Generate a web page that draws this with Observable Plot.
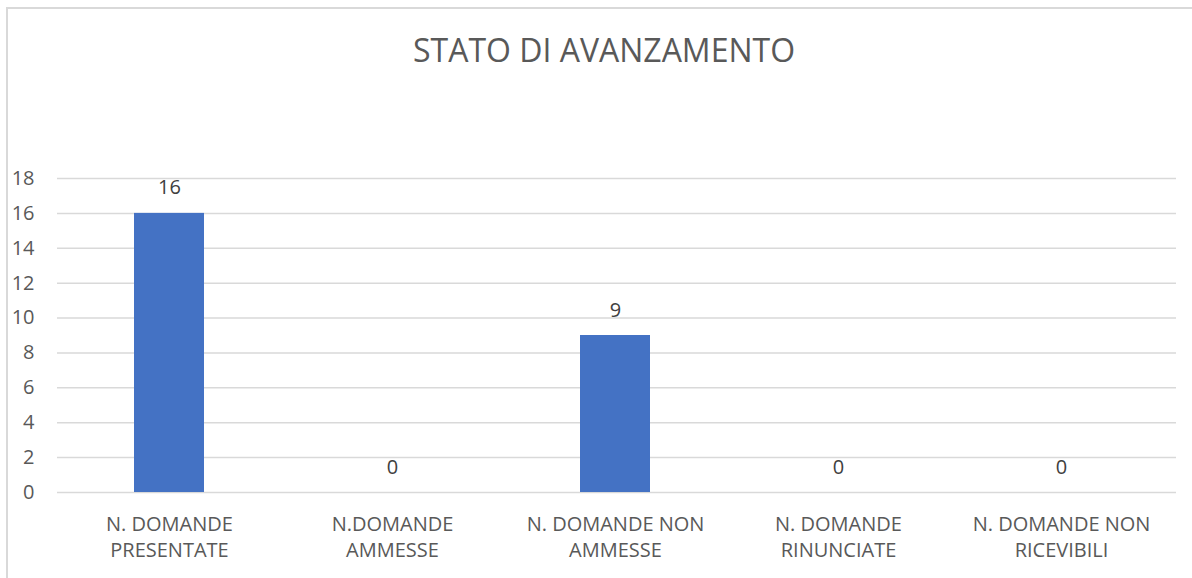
<!DOCTYPE html>
<html>
<head>
<meta charset="utf-8">
<script src="https://cdn.jsdelivr.net/npm/d3@7"></script>
<script src="https://cdn.jsdelivr.net/npm/@observablehq/plot@0.6"></script>
<style>
  html, body { margin: 0; padding: 0; background: #fff; overflow: hidden; }
  #wrap { position: relative; width: 1192px; height: 578px; }
  #frame { position: absolute; left: 6px; top: 7px; width: 1300px; height: 700px;
           border-left: 2px solid #d9d9d9; border-top: 2px solid #d9d9d9; box-sizing: border-box; }
  #title { position: absolute; left: 0; top: 34px; width: 1208px; text-align: center;
           font-family: "Open Sans", sans-serif; font-size: 32px; line-height: 1; color: #595959; }
  #chart { position: absolute; left: 0; top: 0; }
</style>
</head>
<body>
<div id="wrap">
  <div id="frame"></div>
  <div id="title">STATO DI AVANZAMENTO</div>
  <div id="chart"></div>
</div>
<script>
const categories = ["N. DOMANDE\nPRESENTATE", "N.DOMANDE\nAMMESSE", "N. DOMANDE NON\nAMMESSE", "N. DOMANDE\nRINUNCIATE", "N. DOMANDE NON\nRICEVIBILI"];
const values = [16, 0, 9, 0, 0];
const yTicks = [0, 2, 4, 6, 8, 10, 12, 14, 16, 18];

const data = categories.map((c, i) => ({category: c, value: values[i]}));

const chart = Plot.plot({
  width: 1192,
  height: 578,
  marginLeft: 57,
  marginRight: 16,
  marginTop: 178,
  marginBottom: 86,
  style: {fontFamily: "'Open Sans', sans-serif", fontSize: "20px", color: "#595959", background: "transparent"},
  x: {domain: categories, paddingInner: 0.687, paddingOuter: 0.3435, label: null},
  y: {domain: [0, 18], label: null},
  marks: [
    Plot.ruleY(yTicks, {stroke: "#d9d9d9", strokeWidth: 1.5}),
    Plot.barY(data, {x: "category", y: "value", fill: "#4472C4", dx: -2}),
    Plot.text(data, {x: "category", y: "value", text: d => String(d.value), dy: -19, dx: -2, lineAnchor: "bottom", fill: "#404040", fontSize: 20}),
    Plot.axisY({ticks: yTicks, tickSize: 0, tickPadding: 23, label: null, fill: "#595959", fontSize: 20}),
    Plot.axisX({tickSize: 0, tickPadding: 20, dx: -2, label: null, lineHeight: 1.3, fill: "#595959", fontSize: 20, lineAnchor: "top"})
  ]
});
document.getElementById("chart").appendChild(chart);
</script>
</body>
</html>
